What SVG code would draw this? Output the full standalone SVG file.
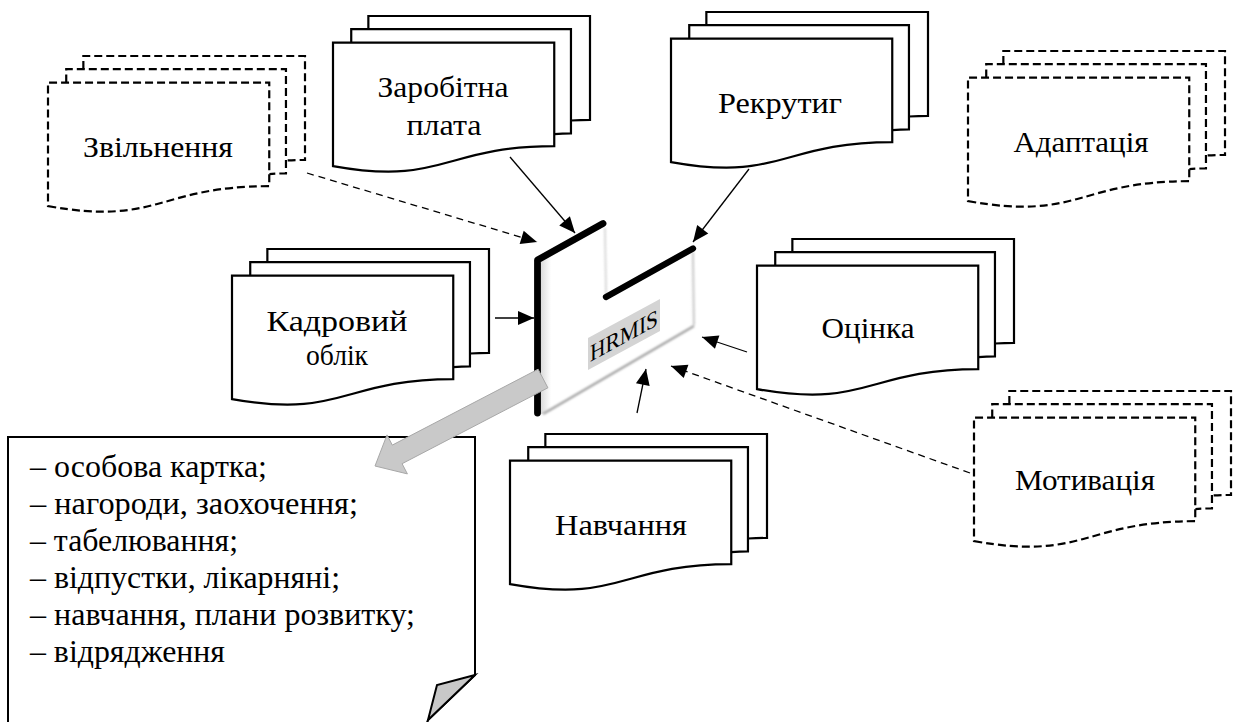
<svg xmlns="http://www.w3.org/2000/svg" width="1233" height="722" viewBox="0 0 1233 722">
  <style>
    .doc { fill: none; stroke: #000; stroke-width: 2.2; stroke-linejoin: miter; }
    .paper { fill: #fff; stroke: none; }
    text { font-family: "Liberation Serif", "Times New Roman", serif; fill: #000; }
    .lbl { font-size: 30px; text-anchor: middle; }
    .conn { stroke: #000; stroke-width: 1.3; fill: none; marker-end: url(#ah); }
    .dash { stroke-dasharray: 7 5; }
    .note { font-size: 31px; }
  </style>
  <defs>
    <marker id="ah" markerUnits="userSpaceOnUse" markerWidth="17" markerHeight="14" refX="16" refY="7" orient="auto" overflow="visible">
      <path d="M0,0 L16,7 L0,14 Z" fill="#000"/>
    </marker>
    <!-- stacked "multidocument" flowchart symbol, 257 x 156 -->
    <g id="mdoc">
      <path class="paper" d="M35.36,13.11 V0 H257 V103.94 C247.48,103.94 237.96,104.48 237.96,104.48 V13.11 Z"/>
      <path class="doc" d="M35.36,13.11 V0 H257 V103.94 C247.48,103.94 237.96,104.48 237.96,104.48"/>
      <path class="paper" d="M18.23,26.54 V13.11 H237.96 V117.38 C229.61,117.38 221.25,118.10 221.25,118.10 V26.54 Z"/>
      <path class="doc" d="M18.23,26.54 V13.11 H237.96 V117.38 C229.61,117.38 221.25,118.10 221.25,118.10"/>
      <path class="paper" d="M0,150.09 C110.63,170.03 110.63,130.16 221.25,130.16 V26.54 H0 Z"/>
      <path class="doc" d="M0,150.09 C110.63,170.03 110.63,130.16 221.25,130.16 V26.54 H0 Z"/>
    </g>
    <linearGradient id="face" gradientUnits="userSpaceOnUse" x1="540" y1="0" x2="700" y2="0">
      <stop offset="0" stop-color="#d8d8d8"/>
      <stop offset="0.07" stop-color="#ffffff"/>
      <stop offset="0.93" stop-color="#ffffff"/>
      <stop offset="1" stop-color="#f4f4f4"/>
    </linearGradient>
    <filter id="soft" x="-20%" y="-20%" width="140%" height="140%">
      <feGaussianBlur stdDeviation="1.1"/>
    </filter>
  </defs>

  <!-- connectors -->
  <g id="connectors">
    <line class="conn" x1="510" y1="157" x2="575" y2="233"/>
    <line class="conn" x1="749" y1="169" x2="693" y2="242"/>
    <line class="conn dash" x1="307" y1="173" x2="537" y2="242"/>
    <line class="conn" x1="495" y1="318" x2="534" y2="318"/>
    <line class="conn" x1="747" y1="352" x2="702" y2="337"/>
    <line class="conn" x1="637" y1="413" x2="646" y2="369"/>
    <line class="conn dash" x1="970" y1="473" x2="671" y2="366"/>
  </g>

  <!-- document stacks -->
  <g id="node-zvilnennya">
    <use href="#mdoc" x="48" y="56" stroke-dasharray="8 4"/>
    <text class="lbl" x="158" y="157" textLength="150" lengthAdjust="spacingAndGlyphs">Звільнення</text>
  </g>
  <g id="node-zarobitna-plata">
    <use href="#mdoc" x="333" y="16"/>
    <text class="lbl" x="443" y="97" textLength="131" lengthAdjust="spacingAndGlyphs">Заробітна</text>
    <text class="lbl" x="444" y="135" textLength="75" lengthAdjust="spacingAndGlyphs">плата</text>
  </g>
  <g id="node-rekrutyg">
    <use href="#mdoc" x="671" y="12"/>
    <text class="lbl" x="780" y="113" textLength="124" lengthAdjust="spacingAndGlyphs">Рекрутиг</text>
  </g>
  <g id="node-adaptatsiya">
    <use href="#mdoc" x="968" y="51" stroke-dasharray="8 4"/>
    <text class="lbl" x="1081" y="152" textLength="135" lengthAdjust="spacingAndGlyphs">Адаптація</text>
  </g>
  <g id="node-kadrovyi-oblik">
    <use href="#mdoc" x="232" y="249"/>
    <text class="lbl" x="337" y="331" textLength="141" lengthAdjust="spacingAndGlyphs">Кадровий</text>
    <text class="lbl" x="337" y="365" textLength="62" lengthAdjust="spacingAndGlyphs">облік</text>
  </g>
  <g id="node-otsinka">
    <use href="#mdoc" x="757" y="239"/>
    <text class="lbl" x="868" y="338" textLength="93" lengthAdjust="spacingAndGlyphs">Оцінка</text>
  </g>
  <g id="node-motyvatsiya">
    <use href="#mdoc" x="974" y="391" stroke-dasharray="8 4"/>
    <text class="lbl" x="1085" y="490" textLength="140" lengthAdjust="spacingAndGlyphs">Мотивація</text>
  </g>
  <g id="node-navchannya">
    <use href="#mdoc" x="510" y="434"/>
    <text class="lbl" x="621" y="535" textLength="132" lengthAdjust="spacingAndGlyphs">Навчання</text>
  </g>

  <!-- note with folded corner -->
  <g id="node-note">
    <path d="M8,724 V437 H475 V675 L428,720 L427,724 Z" fill="#fff" stroke="#000" stroke-width="2"/>
    <path d="M475,675 L437,685 L428,720 Z" fill="#c8c8c8" stroke="#000" stroke-width="2" stroke-linejoin="miter"/>
    <text class="note" x="30" y="477" textLength="237" lengthAdjust="spacingAndGlyphs">– особова картка;</text>
    <text class="note" x="30" y="514" textLength="328" lengthAdjust="spacingAndGlyphs">– нагороди, заохочення;</text>
    <text class="note" x="30" y="551" textLength="208" lengthAdjust="spacingAndGlyphs">– табелювання;</text>
    <text class="note" x="30" y="588" textLength="310" lengthAdjust="spacingAndGlyphs">– відпустки, лікарняні;</text>
    <text class="note" x="30" y="625" textLength="385" lengthAdjust="spacingAndGlyphs">– навчання, плани розвитку;</text>
    <text class="note" x="30" y="662" textLength="195" lengthAdjust="spacingAndGlyphs">– відрядження</text>
  </g>

  <!-- central HRMIS block -->
  <g id="node-hrmis">
    <polygon points="540,262 605,226 606,298 693,250 694,326 542,414 540,414" fill="url(#face)"/>
    <g filter="url(#soft)" fill="none">
      <line x1="605" y1="228" x2="606" y2="295" stroke="#d0d0d0" stroke-width="1.6"/>
      <line x1="693" y1="252" x2="694" y2="325" stroke="#c4c4c4" stroke-width="1.8"/>
      <line x1="543" y1="414" x2="694" y2="326" stroke="#a0a0a0" stroke-width="2.2"/>
    </g>
    <polyline points="537.5,413 537.5,260 603,223.5" fill="none" stroke="#000" stroke-width="6.8" stroke-linejoin="round" stroke-linecap="round"/>
    <line x1="606" y1="297" x2="693" y2="248.5" stroke="#000" stroke-width="6.3" stroke-linecap="round"/>
    <g transform="translate(588,338) skewY(-28.5)">
      <rect x="0" y="0" width="72" height="32" fill="#d4d4d4"/>
      <text x="36" y="25" font-size="24" text-anchor="middle" textLength="68" lengthAdjust="spacingAndGlyphs">HRMIS</text>
    </g>
  </g>

  <!-- wide grey pointer from HRMIS to the note -->
  <g id="pointer">
    <polygon points="538.1,369.2 392.3,445.1 387,434.9 375,466 407.4,473.9 402.1,463.7 547.9,387.8" fill="#c9c9c9" stroke="#a8a8a8" stroke-width="1"/>
  </g>
</svg>
